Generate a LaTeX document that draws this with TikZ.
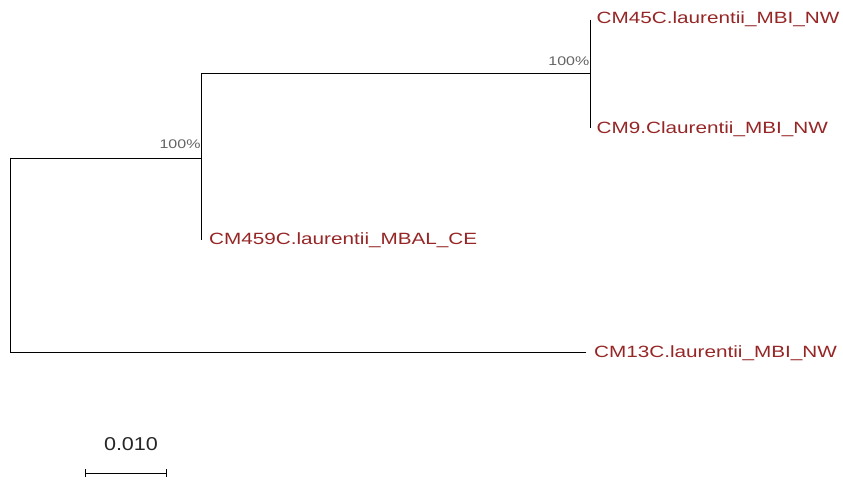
\documentclass[tikz,border=0pt]{standalone}
\usepackage{fontspec}
\setmainfont{Liberation Sans}
\definecolor{tipred}{RGB}{150,38,38}
\definecolor{bootgray}{RGB}{100,100,100}
\begin{document}
\begin{tikzpicture}[x=1pt,y=1pt,
  branch/.style={line width=0.9pt,line cap=rect},
  tiplabel/.style={anchor=base west,inner sep=0pt,text=tipred,font=\fontsize{16.3}{16.3}\selectfont},
  bootlabel/.style={anchor=base east,inner sep=0pt,text=bootgray,font=\fontsize{12.5}{12.5}\selectfont},
  scalelabel/.style={anchor=base,inner sep=0pt,text=black!85,font=\fontsize{18.6}{18.6}\selectfont}]
\useasboundingbox (0,0) rectangle (843,484);
% coordinates (y flipped: 484 - y)
\coordinate (roottop) at (10,326);
\coordinate (rootbot) at (10,132);
\coordinate (n1) at (201,326);
\coordinate (n1top) at (201,410.5);
\coordinate (n1bot) at (201,244);
\coordinate (n2) at (590,410.5);
\coordinate (n2top) at (590,464);
\coordinate (n2bot) at (590,356);
\coordinate (t13) at (586,132);
% branches
\draw[branch] (roottop) -- (rootbot);
\draw[branch] (roottop) -- (n1);
\draw[branch] (n1top) -- (n1bot);
\draw[branch] (n1top) -- (n2);
\draw[branch] (n2top) -- (n2bot);
\draw[branch] (rootbot) -- (t13);
% tip labels
\node[tiplabel] (l45) at (596.5,460.7) {\scalebox{1.27}[1]{CM45C.laurentii\_MBI\_NW}};
\node[tiplabel] (l9) at (596.5,350) {\scalebox{1.27}[1]{CM9.Claurentii\_MBI\_NW}};
\node[tiplabel] (l459) at (209,239) {\scalebox{1.27}[1]{CM459C.laurentii\_MBAL\_CE}};
\node[tiplabel] (l13) at (594,126.5) {\scalebox{1.27}[1]{CM13C.laurentii\_MBI\_NW}};
% bootstrap labels
\node[bootlabel] (b2) at (589.5,418.3) {\scalebox{1.28}[1]{100\%}};
\node[bootlabel] (b1) at (200.7,335.5) {\scalebox{1.28}[1]{100\%}};
% scale bar
\coordinate (sbl) at (85,11);
\coordinate (sbr) at (166,11);
\draw[line width=0.9pt] (sbl) -- (sbr);
\draw[line width=0.9pt] ([yshift=-4]sbl) -- ([yshift=4]sbl);
\draw[line width=0.9pt] ([yshift=-4]sbr) -- ([yshift=4]sbr);
\node[scalelabel] (sl) at (131,33) {\scalebox{1.16}[1]{0.010}};
\end{tikzpicture}
\end{document}
